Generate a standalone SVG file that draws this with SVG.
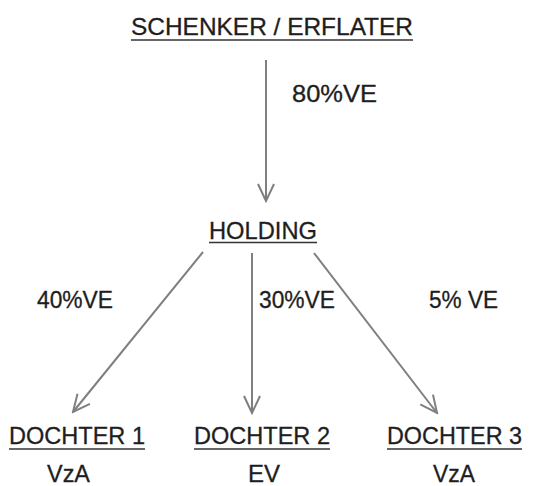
<svg xmlns="http://www.w3.org/2000/svg" width="536" height="486" viewBox="0 0 536 486">
<style>
text{font-family:"Liberation Sans",Arial,sans-serif;font-size:24px;fill:#1e1e1e;stroke:#1e1e1e;stroke-width:0.3}
.ul{stroke:#333;stroke-width:1.6}
.c{stroke:#7f7f7f;stroke-width:2;fill:none}
</style>
<defs>
<marker id="ah" viewBox="0 0 20 20" refX="18" refY="10" markerWidth="20" markerHeight="20" markerUnits="userSpaceOnUse" orient="auto">
<path d="M1,2 L18,10 L1,18" fill="none" stroke="#7f7f7f" stroke-width="2"/>
</marker>
</defs>
<rect width="536" height="486" fill="#fff"/>
<g id="schenker">
<text x="131" y="35" textLength="282" lengthAdjust="spacingAndGlyphs">SCHENKER / ERFLATER</text>
<line class="ul" x1="131" y1="40" x2="413" y2="40"/>
</g>
<g id="holding">
<text x="209" y="239" textLength="108" lengthAdjust="spacingAndGlyphs">HOLDING</text>
<line class="ul" x1="209" y1="242.5" x2="317" y2="242.5"/>
</g>
<g id="dochter1">
<text x="9" y="444" textLength="136" lengthAdjust="spacingAndGlyphs">DOCHTER 1</text>
<line class="ul" x1="9" y1="449" x2="145" y2="449"/>
<text x="47" y="482" textLength="43" lengthAdjust="spacingAndGlyphs">VzA</text>
</g>
<g id="dochter2">
<text x="194" y="444" textLength="136" lengthAdjust="spacingAndGlyphs">DOCHTER 2</text>
<line class="ul" x1="194" y1="449" x2="330" y2="449"/>
<text x="248" y="482" textLength="32" lengthAdjust="spacingAndGlyphs">EV</text>
</g>
<g id="dochter3">
<text x="387" y="444" textLength="135" lengthAdjust="spacingAndGlyphs">DOCHTER 3</text>
<line class="ul" x1="387" y1="449" x2="522" y2="449"/>
<text x="433" y="482" textLength="42" lengthAdjust="spacingAndGlyphs">VzA</text>
</g>
<g id="connectors">
<line class="c" x1="266" y1="60" x2="266" y2="201" marker-end="url(#ah)"/>
<line class="c" x1="203" y1="252" x2="73" y2="412" marker-end="url(#ah)"/>
<line class="c" x1="252" y1="253" x2="252" y2="413" marker-end="url(#ah)"/>
<line class="c" x1="314" y1="253" x2="437" y2="413" marker-end="url(#ah)"/>
<text x="292" y="102" textLength="85" lengthAdjust="spacingAndGlyphs">80%VE</text>
<text x="37" y="308" textLength="76" lengthAdjust="spacingAndGlyphs">40%VE</text>
<text x="259" y="308" textLength="76" lengthAdjust="spacingAndGlyphs">30%VE</text>
<text x="429" y="308" textLength="69" lengthAdjust="spacingAndGlyphs">5% VE</text>
</g>
</svg>
